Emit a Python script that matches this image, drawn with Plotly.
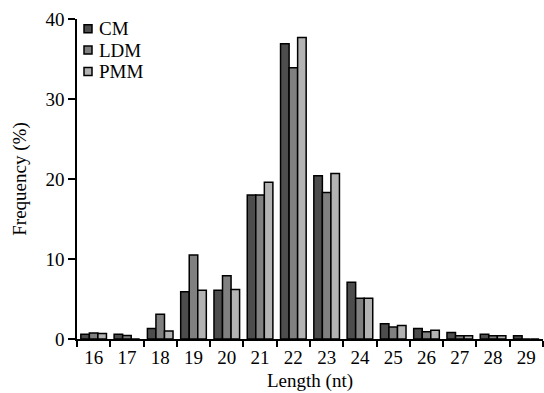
import plotly.graph_objects as go

lengths = [16, 17, 18, 19, 20, 21, 22, 23, 24, 25, 26, 27, 28, 29]
cm  = [0.6, 0.6, 1.3, 5.9, 6.1, 18.0, 36.9, 20.4, 7.1, 1.9, 1.3, 0.8, 0.6, 0.4]
ldm = [0.75, 0.45, 3.1, 10.5, 7.9, 18.0, 33.9, 18.3, 5.1, 1.5, 0.9, 0.4, 0.4, 0.0]
pmm = [0.7, 0.0, 1.0, 6.1, 6.2, 19.6, 37.7, 20.7, 5.1, 1.7, 1.1, 0.4, 0.4, 0.0]
series = [("CM", cm, "#4d4d4d"), ("LDM", ldm, "#808080"), ("PMM", pmm, "#b3b3b3")]

font = "Liberation Serif, Times New Roman, serif"
FS = 19
W, H = 544, 393
L, R, T, B = 77, 1, 19, 54
pw, ph = W - L - R, H - T - B

fig = go.Figure()
for name, vals, col in series:
    fig.add_trace(go.Bar(x=lengths, y=vals, name=name, showlegend=False,
                         marker=dict(color=col, line=dict(color="black", width=1.5))))

# custom legend (marker squares + labels)
leg_x = (88 - L) / pw
txt_x = (97 - L) / pw
for i, (name, vals, col) in enumerate(series):
    yc = (H - B - (28.7 + 21.4 * i)) / ph
    fig.add_shape(type="rect", xref="paper", yref="paper",
                  xsizemode="pixel", ysizemode="pixel",
                  xanchor=leg_x, yanchor=yc, x0=-4, x1=4, y0=-4, y1=4,
                  fillcolor=col, line=dict(color="black", width=1.5))
    fig.add_annotation(x=txt_x, y=yc, xref="paper", yref="paper", text=name,
                       showarrow=False, xanchor="left", yanchor="middle",
                       font=dict(family=font, size=FS, color="black"))

fig.update_layout(
    width=W, height=H,
    margin=dict(l=L, r=R, t=T, b=B),
    paper_bgcolor="white", plot_bgcolor="white",
    barmode="group", bargap=0.23, bargroupgap=0,
    font=dict(family=font, size=FS, color="black"),
    xaxis=dict(range=[15.5, 29.5], tickvals=lengths, ticktext=[str(v) for v in lengths],
               ticks="", showline=True, linecolor="black", linewidth=1.5,
               showgrid=False, zeroline=False, automargin=False,
               minor=dict(ticks="outside", ticklen=6, tickcolor="black", tickwidth=1.5,
                          tick0=15.5, dtick=1, showgrid=False),
               title=dict(text="Length (nt)", font=dict(size=FS), standoff=7)),
    yaxis=dict(range=[0, 40], tickvals=[0, 10, 20, 30, 40], ticks="outside", ticklen=7,
               tickcolor="black", tickwidth=1.5, showline=True, linecolor="black", linewidth=1.5,
               showgrid=False, zeroline=False, automargin=False,
               title=dict(text="Frequency (%)", font=dict(size=FS), standoff=14)),
)
fig.write_html("out.html", config={"displayModeBar": False},
               post_script="document.body.style.margin='0';")
